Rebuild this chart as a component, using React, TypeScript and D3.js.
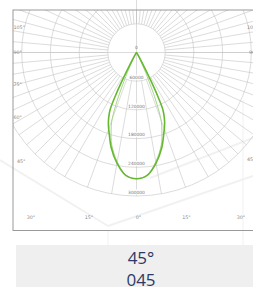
import React, { useEffect, useRef } from "react";
import * as d3 from "d3";

// polar intensity (cd) per gamma angle, symmetric around 0°
const gammaAngles = [0, 5, 10, 15, 18, 20, 22, 24, 25, 26, 27, 28, 30, 33, 36];
const planeC0 = [264000, 258000, 235000, 205000, 183000, 170000, 157000, 140000, 128000, 100000, 65000, 38000, 14000, 4000, 0];
const planeC90 = [264000, 257000, 232000, 200000, 172000, 150000, 105000, 55000, 38000, 22000, 12000, 6000, 1500, 0, 0];

const ringValues = [60000, 120000, 180000, 240000, 300000];
const ringLabels = ["60000", "120000", "180000", "240000", "300000"];

const sideLabels = ["105°", "90°", "75°", "60°", "45°"];
const rightLabels = ["105°", "90°", "45°"];
const bottomLabels = ["30°", "15°", "0°", "15°", "30°"];

const beamAngle = "45°";
const beamCode = "045";

// layout of the frame labels
const sideY = [29, 54, 86, 119, 163];
const sideLeftX = [13.5, 13.5, 13.5, 13.5, 17];
const rightY = [29, 54, 161];
const rightX = [247, 249, 247];
const bottomX = [31, 89, 138.5, 186.5, 241];

export default function App() {
  const ref = useRef<SVGSVGElement>(null);

  useEffect(() => {
    if (!ref.current) return;
    const svg = d3.select(ref.current);
    svg.selectAll("*").remove();

    const W = 253, H = 287;
    const cx = 136.5, cy = 52.5;
    const box = { x: 13, y: 10, w: 250, h: 220.5 };

    const r = d3.scaleLinear().domain([0, 300000]).range([0, 143.5]);
    const rad = (a: number) => (a * Math.PI) / 180;

    svg.append("rect").attr("width", W).attr("height", H).attr("fill", "#fff");

    // faint watermark strokes
    const wm = svg.append("g").attr("stroke", "#f1f1f1").attr("stroke-width", 2).attr("fill", "none");
    wm.append("line").attr("x1", 0).attr("y1", 160).attr("x2", 108).attr("y2", 226);
    wm.append("line").attr("x1", 108).attr("y1", 226).attr("x2", 253).attr("y2", 176);
    wm.append("line").attr("x1", 150).attr("y1", 178).attr("x2", 253).attr("y2", 138);
    wm.append("line").attr("x1", 108).attr("y1", 230).attr("x2", 108).attr("y2", 245).attr("stroke-width", 1);
    wm.append("line").attr("x1", 243).attr("y1", 100).attr("x2", 243).attr("y2", 245).attr("stroke-width", 1);
    wm.append("line").attr("x1", cx).attr("y1", 0).attr("x2", cx).attr("y2", 10).attr("stroke", "#ddd").attr("stroke-width", 1);

    svg.append("clipPath").attr("id", "frame")
      .append("rect").attr("x", box.x).attr("y", box.y).attr("width", box.w).attr("height", box.h);

    const grid = svg.append("g").attr("clip-path", "url(#frame)")
      .attr("stroke", "#c4c4c4").attr("stroke-width", 0.6).attr("fill", "none");

    grid.selectAll("circle.ring").data(ringValues).join("circle")
      .attr("cx", cx).attr("cy", cy).attr("r", (d) => r(d));

    const spokes: number[] = [];
    d3.range(5, 181, 5).forEach((a) => {
      if (a > 30 || a % 10 === 0) { spokes.push(a); spokes.push(-a); }
    });
    const rIn = r(ringValues[0]);
    const rOut = r(ringValues[ringValues.length - 1]);
    grid.selectAll("line.spoke").data(spokes).join("line")
      .attr("x1", (a) => cx + rIn * Math.sin(rad(a)))
      .attr("y1", (a) => cy + rIn * Math.cos(rad(a)))
      .attr("x2", (a) => cx + rOut * Math.sin(rad(a)))
      .attr("y2", (a) => cy + rOut * Math.cos(rad(a)));

    // cross through centre
    grid.append("line").attr("x1", box.x).attr("x2", box.x + box.w).attr("y1", cy).attr("y2", cy);
    grid.append("line").attr("x1", cx).attr("x2", cx).attr("y1", box.y).attr("y2", cy + rOut);

    // frame
    svg.append("rect").attr("x", box.x).attr("y", box.y).attr("width", box.w).attr("height", box.h)
      .attr("fill", "none").attr("stroke", "#8f8f8f").attr("stroke-width", 0.9);

    // curves
    const toPts = (vals: number[]) => {
      const pts: [number, number][] = [];
      for (let i = gammaAngles.length - 1; i > 0; i--) pts.push([-gammaAngles[i], vals[i]]);
      gammaAngles.forEach((a, i) => pts.push([a, vals[i]]));
      return pts;
    };
    const line = d3.line<[number, number]>()
      .x((d) => cx + r(d[1]) * Math.sin(rad(d[0])))
      .y((d) => cy + r(d[1]) * Math.cos(rad(d[0])))
      .curve(d3.curveCatmullRom.alpha(0.5));

    svg.append("path").datum(toPts(planeC90)).attr("d", line)
      .attr("fill", "none").attr("stroke", "#a8d68a").attr("stroke-width", 1);
    svg.append("path").datum(toPts(planeC0)).attr("d", line)
      .attr("fill", "none").attr("stroke", "#66b832").attr("stroke-width", 1.6);

    // ring value labels
    const lbl = svg.append("g").attr("font-family", "DejaVu Sans, sans-serif").attr("font-size", 4.4).attr("fill", "#777");
    ringValues.forEach((v, i) => {
      const y = cy + r(v) - 4;
      lbl.append("rect").attr("x", cx - 7.5).attr("y", y - 2.5).attr("width", 15).attr("height", 5).attr("fill", "#fff");
      lbl.append("text").attr("x", cx).attr("y", y + 1.6).attr("text-anchor", "middle").text(ringLabels[i]);
    });
    lbl.append("text").attr("x", cx).attr("y", cy - 4).attr("text-anchor", "middle").text("0");

    const ang = svg.append("g").attr("font-family", "DejaVu Sans, sans-serif").attr("font-size", 4.8).attr("fill", "#888");
    sideLabels.forEach((t, i) => {
      ang.append("text").attr("x", sideLeftX[i]).attr("y", sideY[i]).text(t);
    });
    rightLabels.forEach((t, i) => {
      ang.append("text").attr("x", rightX[i]).attr("y", rightY[i]).text(t);
    });
    bottomLabels.forEach((t, i) => {
      ang.append("text").attr("x", bottomX[i]).attr("y", 219).attr("text-anchor", "middle").text(t);
    });

    // caption panel
    svg.append("rect").attr("x", 16).attr("y", 245).attr("width", W - 16).attr("height", H - 245).attr("fill", "#efefef");
    const cap = svg.append("g").attr("font-family", "Open Sans, sans-serif").attr("font-size", 17).attr("fill", "#2c3a66").attr("text-anchor", "middle");
    cap.append("text").attr("x", 141).attr("y", 264).text(beamAngle);
    cap.append("text").attr("x", 141).attr("y", 286).text(beamCode);
  }, []);

  return (
    <svg ref={ref} width={253} height={287} style={{ position: "absolute", left: 0, top: 0, display: "block" }} />
  );
}
